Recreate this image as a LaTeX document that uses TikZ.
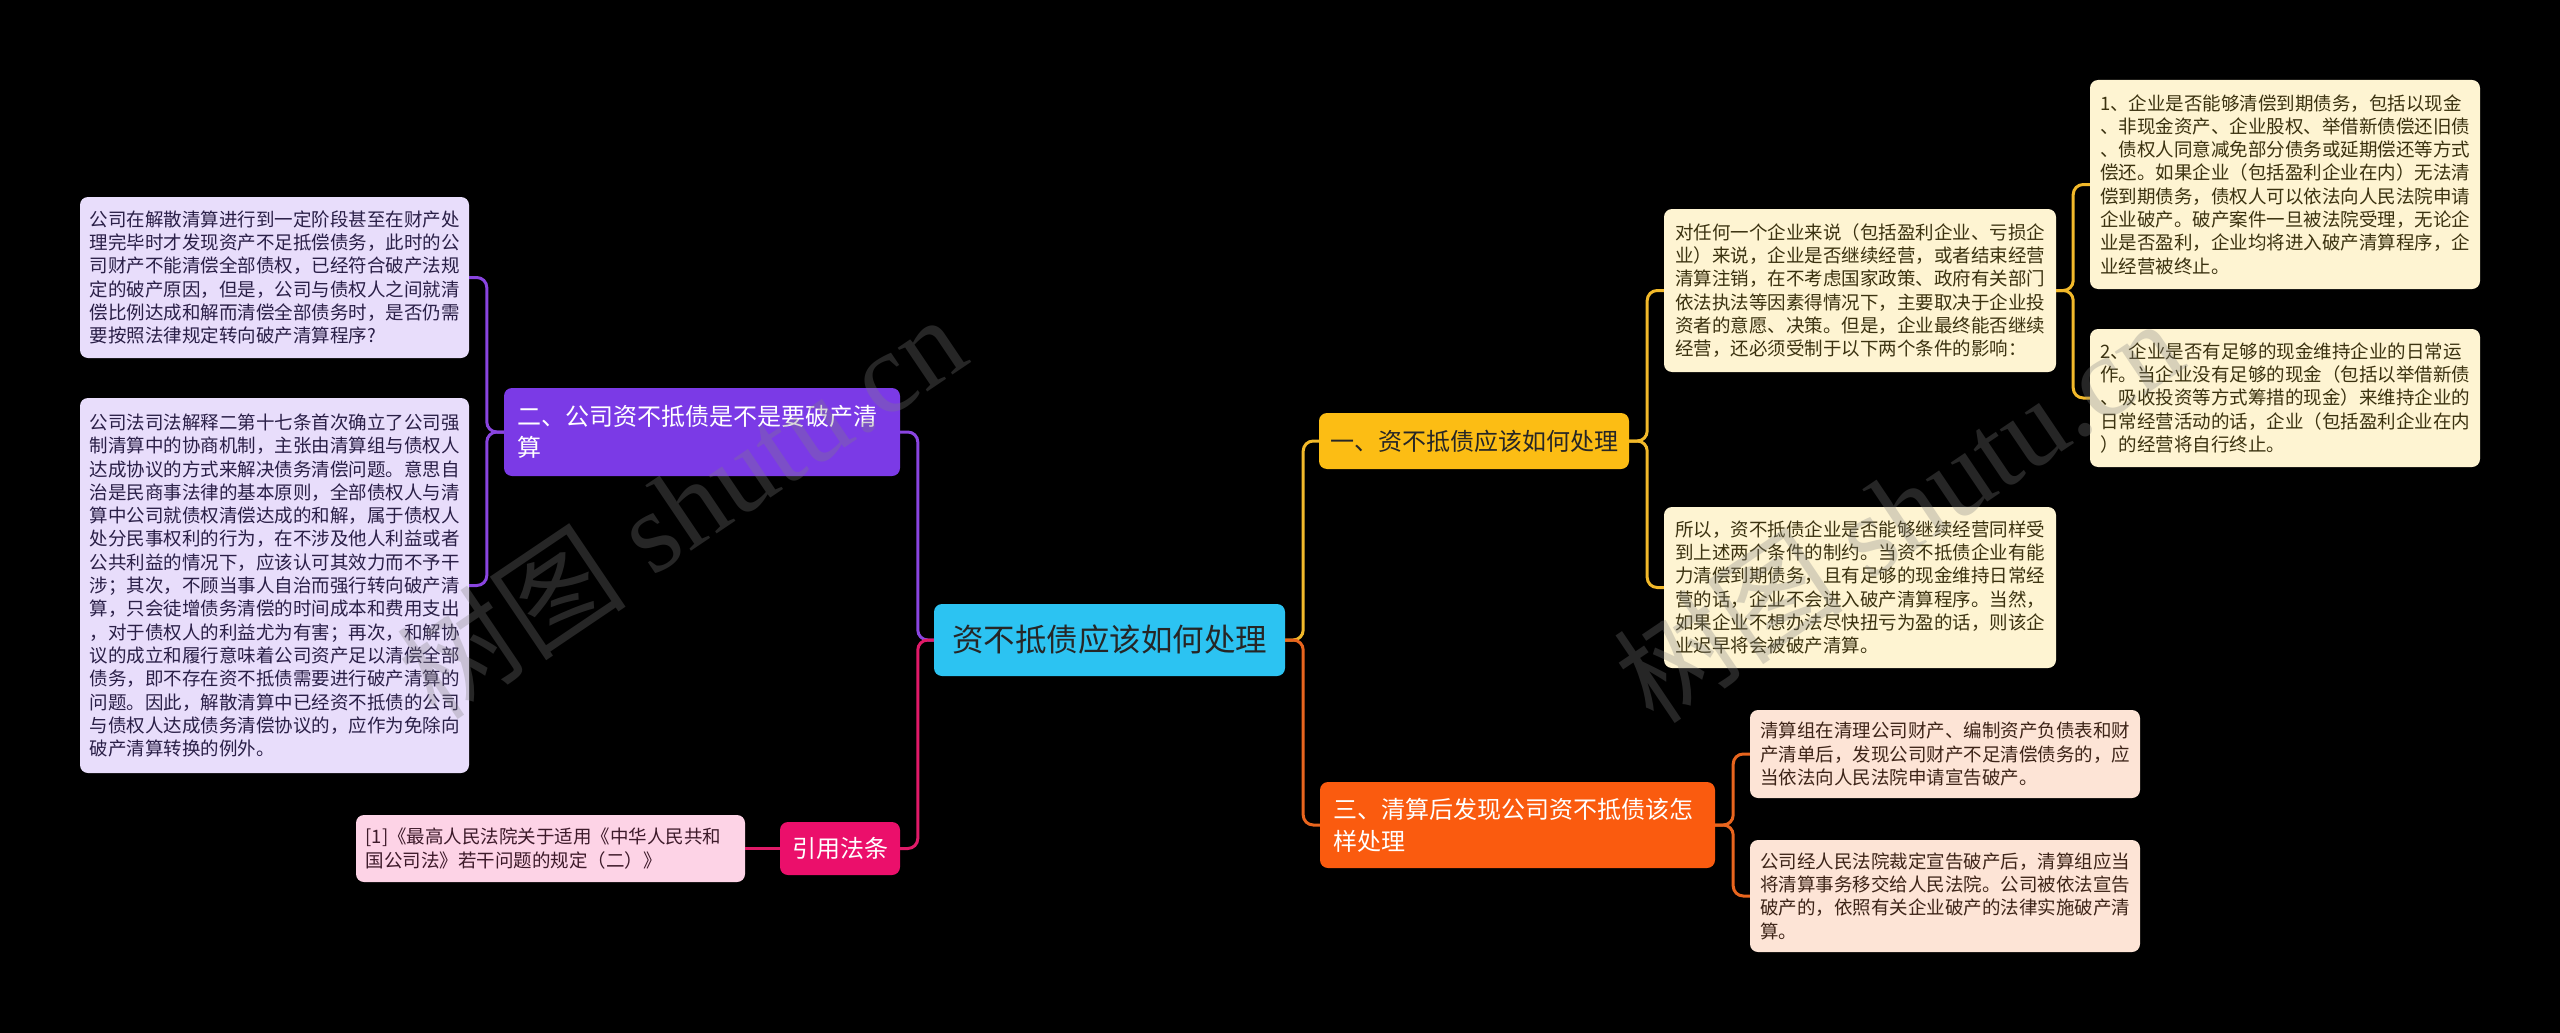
\documentclass[tikz,border=0pt]{standalone}
\usepackage{fontspec}
\setmainfont{Noto Sans CJK SC}
\newfontfamily\wmserif{Liberation Serif}
\newfontfamily\wmcjk{Noto Sans CJK SC}
\definecolor{cyanC}{HTML}{2CC3F2}
\definecolor{yelB}{HTML}{FCBD14}
\definecolor{oraB}{HTML}{FA5B0F}
\definecolor{purB}{HTML}{7B3AE6}
\definecolor{crimB}{HTML}{EB0F6B}
\definecolor{yelL}{HTML}{FEF4D2}
\definecolor{oraL}{HTML}{FDE4D6}
\definecolor{purL}{HTML}{E8DDFB}
\definecolor{pinkL}{HTML}{FDD3E6}
\definecolor{lnY}{HTML}{F2B92A}
\definecolor{lnO}{HTML}{E8651E}
\definecolor{lnP}{HTML}{8A45E0}
\definecolor{lnQ}{HTML}{E01A68}
\definecolor{txY}{HTML}{3B3210}
\definecolor{txO}{HTML}{3D2418}
\definecolor{txP}{HTML}{2A1F47}
\definecolor{txQ}{HTML}{3D1A2A}
\begin{document}
\begin{tikzpicture}[x=1pt,y=-1pt,
  box/.style={rectangle, rounded corners=8pt, inner sep=0pt, anchor=center},
  leaf/.style={box, align=left, text width=370pt, font=\fontsize{18.5}{23.3}\selectfont},
  branch/.style={box, font=\fontsize{24}{31.7}\selectfont},
  conn/.style={line width=3pt, rounded corners=10pt},
  wm/.style={text=gray, text opacity=0.3, font=\wmserif\fontsize{115}{115}\selectfont, inner sep=0pt}]
\useasboundingbox (0,0) rectangle (2560,1033);
\fill[black] (0,0) rectangle (2560,1033);

% central and branch nodes
\node[box, fill=cyanC, text=black!85, minimum width=351pt, minimum height=72pt,
  font=\fontsize{31.5}{36}\selectfont] (C) at (1109.5,640) {资不抵债应该如何处理};
\node[branch, fill=yelB, text=black!85, minimum width=310pt, minimum height=56pt] (Y1) at (1474,441) {一、资不抵债应该如何处理};
\node[branch, fill=oraB, text=white, align=left, text width=369pt, minimum width=395pt, minimum height=86pt] (O3) at (1517.5,825) {三、清算后发现公司资不抵债该怎\\样处理};
\node[branch, fill=purB, text=white, align=left, text width=370pt, minimum width=396pt, minimum height=88pt] (P2) at (702,432) {二、公司资不抵债是不是要破产清\\算};
\node[branch, fill=crimB, text=white, minimum width=120pt, minimum height=53pt] (Q) at (840,848.5) {引用法条};

% leaves
\node[leaf, fill=yelL, text=txY, minimum width=392pt, minimum height=163pt] (LA) at (1860,290.5) {对任何一个企业来说（包括盈利企业、亏损企\\业）来说，企业是否继续经营，或者结束经营\\清算注销，在不考虑国家政策、政府有关部门\\依法执法等因素得情况下，主要取决于企业投\\资者的意愿、决策。但是，企业最终能否继续\\经营，还必须受制于以下两个条件的影响：};
\node[leaf, fill=yelL, text=txY, minimum width=392pt, minimum height=161pt] (LB) at (1860,587.5) {所以，资不抵债企业是否能够继续经营同样受\\到上述两个条件的制约。当资不抵债企业有能\\力清偿到期债务，且有足够的现金维持日常经\\营的话，企业不会进入破产清算程序。当然，\\如果企业不想办法尽快扭亏为盈的话，则该企\\业迟早将会被破产清算。};
\node[leaf, fill=yelL, text=txY, minimum width=390pt, minimum height=209pt] (FR1) at (2285,184.5) {1、企业是否能够清偿到期债务，包括以现金\\、非现金资产、企业股权、举借新债偿还旧债\\、债权人同意减免部分债务或延期偿还等方式\\偿还。如果企业（包括盈利企业在内）无法清\\偿到期债务，债权人可以依法向人民法院申请\\企业破产。破产案件一旦被法院受理，无论企\\业是否盈利，企业均将进入破产清算程序，企\\业经营被终止。};
\node[leaf, fill=yelL, text=txY, minimum width=390pt, minimum height=138pt] (FR2) at (2285,398) {2、企业是否有足够的现金维持企业的日常运\\作。当企业没有足够的现金（包括以举借新债\\、吸收投资等方式筹措的现金）来维持企业的\\日常经营活动的话，企业（包括盈利企业在内\\）的经营将自行终止。};
\node[leaf, fill=oraL, text=txO, minimum width=390pt, minimum height=88pt] (S1) at (1945,754) {清算组在清理公司财产、编制资产负债表和财\\产清单后，发现公司财产不足清偿债务的，应\\当依法向人民法院申请宣告破产。};
\node[leaf, fill=oraL, text=txO, minimum width=390pt, minimum height=112pt] (S2) at (1945,896) {公司经人民法院裁定宣告破产后，清算组应当\\将清算事务移交给人民法院。公司被依法宣告\\破产的，依照有关企业破产的法律实施破产清\\算。};
\node[leaf, fill=purL, text=txP, minimum width=389pt, minimum height=161pt] (E1) at (274.5,277.5) {公司在解散清算进行到一定阶段甚至在财产处\\理完毕时才发现资产不足抵偿债务，此时的公\\司财产不能清偿全部债权，已经符合破产法规\\定的破产原因，但是，公司与债权人之间就清\\偿比例达成和解而清偿全部债务时，是否仍需\\要按照法律规定转向破产清算程序?};
\node[leaf, fill=purL, text=txP, minimum width=389pt, minimum height=375pt] (E2) at (274.5,585.5) {公司法司法解释二第十七条首次确立了公司强\\制清算中的协商机制，主张由清算组与债权人\\达成协议的方式来解决债务清偿问题。意思自\\治是民商事法律的基本原则，全部债权人与清\\算中公司就债权清偿达成的和解，属于债权人\\处分民事权利的行为，在不涉及他人利益或者\\公共利益的情况下，应该认可其效力而不予干\\涉；其次，不顾当事人自治而强行转向破产清\\算，只会徒增债务清偿的时间成本和费用支出\\，对于债权人的利益尤为有害；再次，和解协\\议的成立和履行意味着公司资产足以清偿全部\\债务，即不存在资不抵债需要进行破产清算的\\问题。因此，解散清算中已经资不抵债的公司\\与债权人达成债务清偿协议的，应作为免除向\\破产清算转换的例外。};
\node[leaf, fill=pinkL, text=txQ, minimum width=389pt, minimum height=67pt] (R1) at (550.5,848.5) {[1]《最高人民法院关于适用《中华人民共和\\国公司法》若干问题的规定（二）》};

% connectors
\draw[conn, lnP] (C.west) -- ++(-16,0) |- (P2.east);
\draw[conn, lnQ] (C.west) -- ++(-16,0) |- (Q.east);
\draw[conn, lnY] (C.east) -- ++(18,0) |- (Y1.west);
\draw[conn, lnO] (C.east) -- ++(18,0) |- (O3.west);
\draw[conn, lnY] (Y1.east) -- ++(18,0) |- (LA.west);
\draw[conn, lnY] (Y1.east) -- ++(18,0) |- (LB.west);
\draw[conn, lnY] (LA.east) -- ++(17,0) |- (FR1.west);
\draw[conn, lnY] (LA.east) -- ++(17,0) |- (FR2.west);
\draw[conn, lnO] (O3.east) -- ++(18,0) |- (S1.west);
\draw[conn, lnO] (O3.east) -- ++(18,0) |- (S2.west);
\draw[conn, lnP] (P2.west) -- ++(-17,0) |- (E1.east);
\draw[conn, lnP] (P2.west) -- ++(-17,0) |- (E2.east);
\draw[conn, lnQ] (Q.west) -- (R1.east);

% watermarks
\node[wm, rotate=34] (W1) at (681,506) {{\wmcjk 树图} shutu.cn};
\node[wm, rotate=34] (W2) at (1898,510) {{\wmcjk 树图} shutu.cn};
\end{tikzpicture}
\end{document}
